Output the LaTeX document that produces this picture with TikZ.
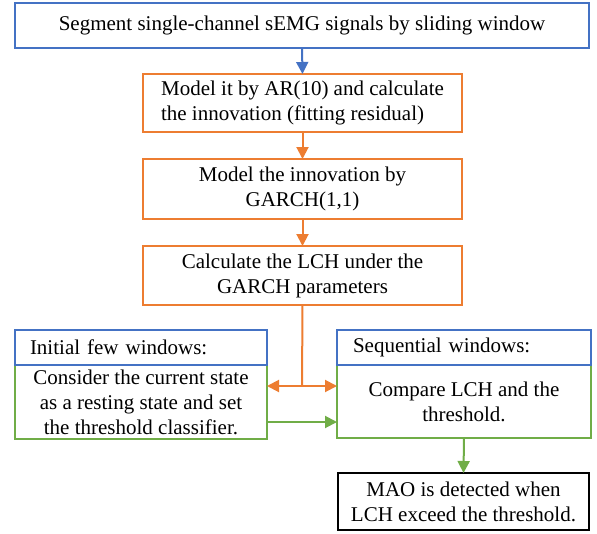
\documentclass[tikz,border=0pt]{standalone}
\usepackage{fontspec}
\setmainfont{Liberation Serif}
\usetikzlibrary{arrows.meta}

\definecolor{stepblue}{HTML}{4472C4}
\definecolor{steporange}{HTML}{ED7D31}
\definecolor{stepgreen}{HTML}{70AD47}

\tikzset{
  box/.style={draw, line width=2pt, rectangle, inner sep=0pt, outer sep=0pt,
    font=\fontsize{21}{25}\selectfont, text=black},
  bluebox/.style={box, draw=stepblue},
  orangebox/.style={box, draw=steporange},
  greenbox/.style={box, draw=stepgreen},
  blackbox/.style={box, draw=black, line width=2.5pt},
  tip/.style={-{Triangle[length=12pt,width=12pt]}},
  link/.style={line width=2pt, tip},
}

\begin{document}
\begin{tikzpicture}[x=1pt, y=-1pt]
  \useasboundingbox (0,0) rectangle (597,533);

  % main processing chain
  \node[bluebox, minimum width=574pt, minimum height=45pt] (seg) at (302,25.5)
    {Segment single-channel sEMG signals by sliding window};
  \node[orangebox, minimum width=319pt, minimum height=58pt, align=left] (ar) at (302.5,103)
    {Model it by AR(10) and calculate\\the innovation (fitting residual)};
  \node[orangebox, minimum width=319pt, minimum height=60pt, align=center] (garch) at (302.5,189)
    {Model the innovation by\\GARCH(1,1)};
  \node[orangebox, minimum width=319pt, minimum height=59pt, align=center] (lch) at (302.5,275.5)
    {Calculate the LCH under the\\GARCH parameters};

  % left column: initial windows
  \node[greenbox, minimum width=252pt, minimum height=74pt, align=center] (initbody) at (141,402)
    {Consider the current state\\as a resting state and set\\the threshold classifier.};
  \node[bluebox, minimum width=252pt, minimum height=35pt, text width=222pt, align=left] (inithead) at (141,347.5)
    {Initial few windows:};

  % right column: sequential windows
  \node[greenbox, minimum width=254pt, minimum height=73pt, align=center] (seqbody) at (464,401.5)
    {Compare LCH and the\\threshold.};
  \node[bluebox, minimum width=254pt, minimum height=35pt, text width=222pt, align=left] (seqhead) at (464,347.5)
    {Sequential windows:};

  % detection result
  \node[blackbox, minimum width=251pt, minimum height=57pt, align=center] (mao) at (463.5,501.5)
    {MAO is detected when\\LCH exceed the threshold.};

  % connectors
  \draw[link, stepblue] (seg.south) -- (ar.north);
  \draw[link, steporange] (ar.south) -- (garch.north);
  \draw[link, steporange] (garch.south) -- (lch.north);

  \coordinate (split) at (302,386);
  \draw[line width=2pt, steporange] (lch.south) -- (split);
  \draw[link, steporange] (split) -- (initbody.east |- split);
  \draw[link, steporange] (split) -- (seqbody.west |- split);

  \coordinate (feed) at (267,422);
  \draw[link, stepgreen] (initbody.east |- feed) -- (seqbody.west |- feed);
  \draw[link, stepgreen] (seqbody.south) -- (mao.north);
\end{tikzpicture}
\end{document}
